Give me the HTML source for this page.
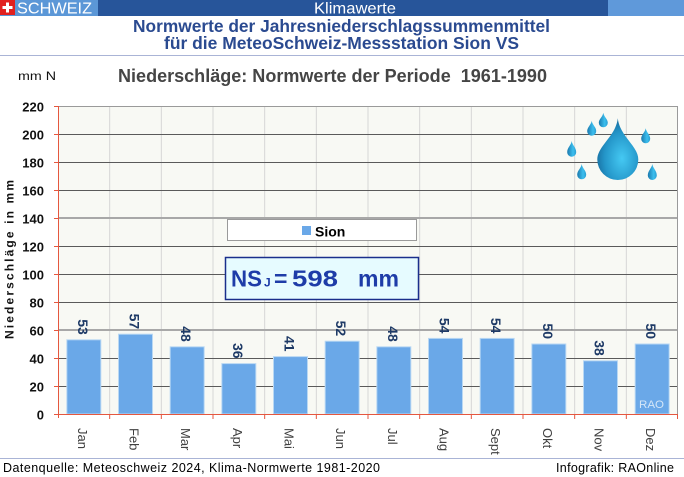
<!DOCTYPE html>
<html><head><meta charset="utf-8"><style>
html,body{margin:0;padding:0;background:#fff;}
svg{display:block;}
text{font-family:"Liberation Sans",Arial,sans-serif;}
</style></head><body>
<svg width="684" height="477" viewBox="0 0 684 477" xmlns="http://www.w3.org/2000/svg">
<defs>
<linearGradient id="dg" x1="0" y1="0" x2="1" y2="0">
<stop offset="0" stop-color="#1b79ad"/>
<stop offset="0.65" stop-color="#3cbfee"/>
<stop offset="1" stop-color="#2a9fd2"/>
</linearGradient>
<radialGradient id="bg" cx="0.6" cy="0.65" r="0.6">
<stop offset="0" stop-color="#45c9f3"/>
<stop offset="0.7" stop-color="#2496c9"/>
<stop offset="1" stop-color="#1a76a8"/>
</radialGradient>
</defs>
<!-- header -->
<rect x="0" y="0" width="98" height="16" fill="#5b97d7"/>
<rect x="98" y="0" width="510" height="16" fill="#27559a"/>
<rect x="608" y="0" width="76" height="16" fill="#5f99da"/>
<rect x="0" y="0" width="15" height="15" fill="#e1201f"/>
<rect x="6" y="2.5" width="3" height="10" fill="#fff"/>
<rect x="2.5" y="6" width="10" height="3" fill="#fff"/>
<text x="17" y="13.5" font-size="15.5" fill="#fff" textLength="75" lengthAdjust="spacingAndGlyphs">SCHWEIZ</text>
<text x="355" y="13.5" font-size="16" fill="#fff" text-anchor="middle" textLength="82" lengthAdjust="spacingAndGlyphs">Klimawerte</text>
<text x="341.5" y="32" font-size="17.3" font-weight="bold" fill="#2a4a90" text-anchor="middle" textLength="417" lengthAdjust="spacingAndGlyphs">Normwerte der Jahresniederschlagssummenmittel</text>
<text x="341.5" y="49" font-size="17.3" font-weight="bold" fill="#2a4a90" text-anchor="middle" textLength="355" lengthAdjust="spacingAndGlyphs">für die MeteoSchweiz-Messstation Sion VS</text>
<line x1="0" y1="55.5" x2="684" y2="55.5" stroke="#aab4d6" stroke-width="1"/>
<text x="18" y="80" font-size="12" fill="#111" textLength="38" lengthAdjust="spacingAndGlyphs">mm N</text>
<text x="118" y="82" font-size="18" font-weight="bold" fill="#454545" textLength="429" lengthAdjust="spacingAndGlyphs">Niederschläge: Normwerte der Periode &#160;1961-1990</text>

<!-- plot area -->
<rect x="58" y="106" width="620" height="308" fill="#f8f9f4"/>
<g stroke="#d6d6d6" stroke-width="1">
<line x1="109.67" y1="106" x2="109.67" y2="414"/>
<line x1="161.33" y1="106" x2="161.33" y2="414"/>
<line x1="213" y1="106" x2="213" y2="414"/>
<line x1="264.67" y1="106" x2="264.67" y2="414"/>
<line x1="316.33" y1="106" x2="316.33" y2="414"/>
<line x1="368" y1="106" x2="368" y2="414"/>
<line x1="419.67" y1="106" x2="419.67" y2="414"/>
<line x1="471.33" y1="106" x2="471.33" y2="414"/>
<line x1="523" y1="106" x2="523" y2="414"/>
<line x1="574.67" y1="106" x2="574.67" y2="414"/>
<line x1="626.33" y1="106" x2="626.33" y2="414"/>
</g>
<g stroke="#5a5a5a" stroke-width="1">
<line x1="58" y1="134.5" x2="678" y2="134.5"/>
<line x1="58" y1="162.5" x2="678" y2="162.5"/>
<line x1="58" y1="190.5" x2="678" y2="190.5"/>
<line x1="58" y1="246.5" x2="678" y2="246.5"/>
<line x1="58" y1="274.5" x2="678" y2="274.5"/>
<line x1="58" y1="302.5" x2="678" y2="302.5"/>
<line x1="58" y1="358.5" x2="678" y2="358.5"/>
<line x1="58" y1="386.5" x2="678" y2="386.5"/>
</g>
<g stroke="#a8a8a8" stroke-width="2">
<line x1="58" y1="218" x2="678" y2="218"/>
<line x1="58" y1="330" x2="678" y2="330"/>
</g>
<line x1="58" y1="106.5" x2="678" y2="106.5" stroke="#9a9a9a" stroke-width="1"/>
<line x1="677.5" y1="106" x2="677.5" y2="414" stroke="#9a9a9a" stroke-width="1"/>

<!-- raindrops -->
<path d="M617.8 118.3 C619.5 136, 638.3 146, 638.3 159.5 A20.5 20.5 0 0 1 597.3 159.5 C597.3 146, 616 136, 617.8 118.3 Z" fill="url(#bg)"/>
<g fill="url(#dg)">
<path d="M603.3 112.7 C604 117, 607.8 119, 607.8 122.8 A4.5 4.5 0 0 1 598.8 122.8 C598.8 119, 602.6 117, 603.3 112.7 Z"/>
<path d="M591.7 120.7 C592.4 125, 596.2 127, 596.2 131.2 A4.5 4.5 0 0 1 587.2 131.2 C587.2 127, 591 125, 591.7 120.7 Z"/>
<path d="M645.7 128.3 C646.4 132.6, 650.2 134.6, 650.2 138.8 A4.5 4.5 0 0 1 641.2 138.8 C641.2 134.6, 645 132.6, 645.7 128.3 Z"/>
<path d="M571.7 141 C572.4 145.5, 576.2 147.5, 576.2 152.2 A4.5 4.5 0 0 1 567.2 152.2 C567.2 147.5, 571 145.5, 571.7 141 Z"/>
<path d="M581.7 164 C582.4 168.5, 586.2 170.5, 586.2 174.8 A4.5 4.5 0 0 1 577.2 174.8 C577.2 170.5, 581 168.5, 581.7 164 Z"/>
<path d="M652.3 164 C653 168.5, 656.8 170.5, 656.8 175.5 A4.5 4.5 0 0 1 647.8 175.5 C647.8 170.5, 651.6 168.5, 652.3 164 Z"/>
</g>

<!-- bars -->
<g fill="#6aa8e8" stroke="#b9d8f3" stroke-width="1">
<rect x="66.83" y="339.8" width="34" height="74.2"/>
<rect x="118.5" y="334.2" width="34" height="79.8"/>
<rect x="170.17" y="346.8" width="34" height="67.2"/>
<rect x="221.83" y="363.6" width="34" height="50.4"/>
<rect x="273.5" y="356.6" width="34" height="57.4"/>
<rect x="325.17" y="341.2" width="34" height="72.8"/>
<rect x="376.83" y="346.8" width="34" height="67.2"/>
<rect x="428.5" y="338.4" width="34" height="75.6"/>
<rect x="480.17" y="338.4" width="34" height="75.6"/>
<rect x="531.83" y="344" width="34" height="70"/>
<rect x="583.5" y="360.8" width="34" height="53.2"/>
<rect x="635.17" y="344" width="34" height="70"/>
</g>
<text x="639" y="408" font-size="11" fill="#d4e6f8" textLength="25" lengthAdjust="spacingAndGlyphs">RAO</text>

<!-- value labels -->
<g font-size="14" font-weight="bold" fill="#1e3a66" text-anchor="end">
<text transform="translate(77.8,334.8) rotate(90)">53</text>
<text transform="translate(129.5,329.2) rotate(90)">57</text>
<text transform="translate(181.2,341.8) rotate(90)">48</text>
<text transform="translate(232.8,358.6) rotate(90)">36</text>
<text transform="translate(284.5,351.6) rotate(90)">41</text>
<text transform="translate(336.2,336.2) rotate(90)">52</text>
<text transform="translate(387.8,341.8) rotate(90)">48</text>
<text transform="translate(439.5,333.4) rotate(90)">54</text>
<text transform="translate(491.2,333.4) rotate(90)">54</text>
<text transform="translate(542.8,339) rotate(90)">50</text>
<text transform="translate(594.5,355.8) rotate(90)">38</text>
<text transform="translate(646.2,339) rotate(90)">50</text>
</g>

<!-- legend -->
<rect x="227.5" y="219.5" width="189" height="21" fill="#fff" stroke="#9a9a9a" stroke-width="1"/>
<rect x="302" y="226" width="9" height="9" fill="#6aa8e8"/>
<text x="315" y="236.5" font-size="14" font-weight="bold" fill="#000">Sion</text>

<!-- NS box -->
<rect x="225.5" y="257.5" width="193" height="42" fill="#e6fbff" stroke="#1a2e8c" stroke-width="1.5"/>
<g fill="#1e3ca8" font-weight="bold">
<text x="231" y="286.5" font-size="23" textLength="31" lengthAdjust="spacingAndGlyphs">NS</text>
<text x="264" y="286.5" font-size="12">J</text>
<text x="274" y="286.5" font-size="23">=</text>
<text x="292" y="286.5" font-size="23" textLength="46" lengthAdjust="spacingAndGlyphs">598</text>
<text x="358" y="286.5" font-size="23" textLength="41" lengthAdjust="spacingAndGlyphs">mm</text>
</g>

<!-- axes -->
<g stroke="#e5573f" stroke-width="1">
<line x1="58.5" y1="106" x2="58.5" y2="418"/>
<line x1="54" y1="414.5" x2="678" y2="414.5"/>
<line x1="54" y1="106.5" x2="58" y2="106.5"/>
<line x1="54" y1="134.5" x2="58" y2="134.5"/>
<line x1="54" y1="162.5" x2="58" y2="162.5"/>
<line x1="54" y1="190.5" x2="58" y2="190.5"/>
<line x1="54" y1="218.5" x2="58" y2="218.5"/>
<line x1="54" y1="246.5" x2="58" y2="246.5"/>
<line x1="54" y1="274.5" x2="58" y2="274.5"/>
<line x1="54" y1="302.5" x2="58" y2="302.5"/>
<line x1="54" y1="330.5" x2="58" y2="330.5"/>
<line x1="54" y1="358.5" x2="58" y2="358.5"/>
<line x1="54" y1="386.5" x2="58" y2="386.5"/>
<line x1="109.67" y1="414" x2="109.67" y2="419"/>
<line x1="161.33" y1="414" x2="161.33" y2="419"/>
<line x1="213" y1="414" x2="213" y2="419"/>
<line x1="264.67" y1="414" x2="264.67" y2="419"/>
<line x1="316.33" y1="414" x2="316.33" y2="419"/>
<line x1="368" y1="414" x2="368" y2="419"/>
<line x1="419.67" y1="414" x2="419.67" y2="419"/>
<line x1="471.33" y1="414" x2="471.33" y2="419"/>
<line x1="523" y1="414" x2="523" y2="419"/>
<line x1="574.67" y1="414" x2="574.67" y2="419"/>
<line x1="626.33" y1="414" x2="626.33" y2="419"/>
<line x1="677.5" y1="414" x2="677.5" y2="419"/>
</g>

<!-- y labels -->
<g font-size="13" font-weight="bold" fill="#111" text-anchor="end">
<text x="44" y="111.5">220</text>
<text x="44" y="139.5">200</text>
<text x="44" y="167.5">180</text>
<text x="44" y="195.5">160</text>
<text x="44" y="223.5">140</text>
<text x="44" y="251.5">120</text>
<text x="44" y="279.5">100</text>
<text x="44" y="307.5">80</text>
<text x="44" y="335.5">60</text>
<text x="44" y="363.5">40</text>
<text x="44" y="391.5">20</text>
<text x="44" y="419.5">0</text>
</g>
<text transform="translate(13.5,259.5) rotate(-90)" font-size="12" font-weight="bold" fill="#111" text-anchor="middle" textLength="159" lengthAdjust="spacing">Niederschläge in mm</text>

<!-- month labels -->
<g font-size="13" fill="#404040">
<text transform="translate(77.8,428) rotate(90)">Jan</text>
<text transform="translate(129.5,428) rotate(90)">Feb</text>
<text transform="translate(181.2,428) rotate(90)">Mar</text>
<text transform="translate(232.8,428) rotate(90)">Apr</text>
<text transform="translate(284.5,428) rotate(90)">Mai</text>
<text transform="translate(336.2,428) rotate(90)">Jun</text>
<text transform="translate(387.8,428) rotate(90)">Jul</text>
<text transform="translate(439.5,428) rotate(90)">Aug</text>
<text transform="translate(491.2,428) rotate(90)">Sept</text>
<text transform="translate(542.8,428) rotate(90)">Okt</text>
<text transform="translate(594.5,428) rotate(90)">Nov</text>
<text transform="translate(646.2,428) rotate(90)">Dez</text>
</g>

<!-- footer -->
<line x1="0" y1="458.5" x2="684" y2="458.5" stroke="#aab4d6" stroke-width="1"/>
<text x="3" y="472" font-size="12.5" fill="#000" textLength="377" lengthAdjust="spacing">Datenquelle: Meteoschweiz 2024, Klima-Normwerte 1981-2020</text>
<text x="556" y="472" font-size="12.5" fill="#000" textLength="118" lengthAdjust="spacing">Infografik: RAOnline</text>
</svg>
</body></html>
